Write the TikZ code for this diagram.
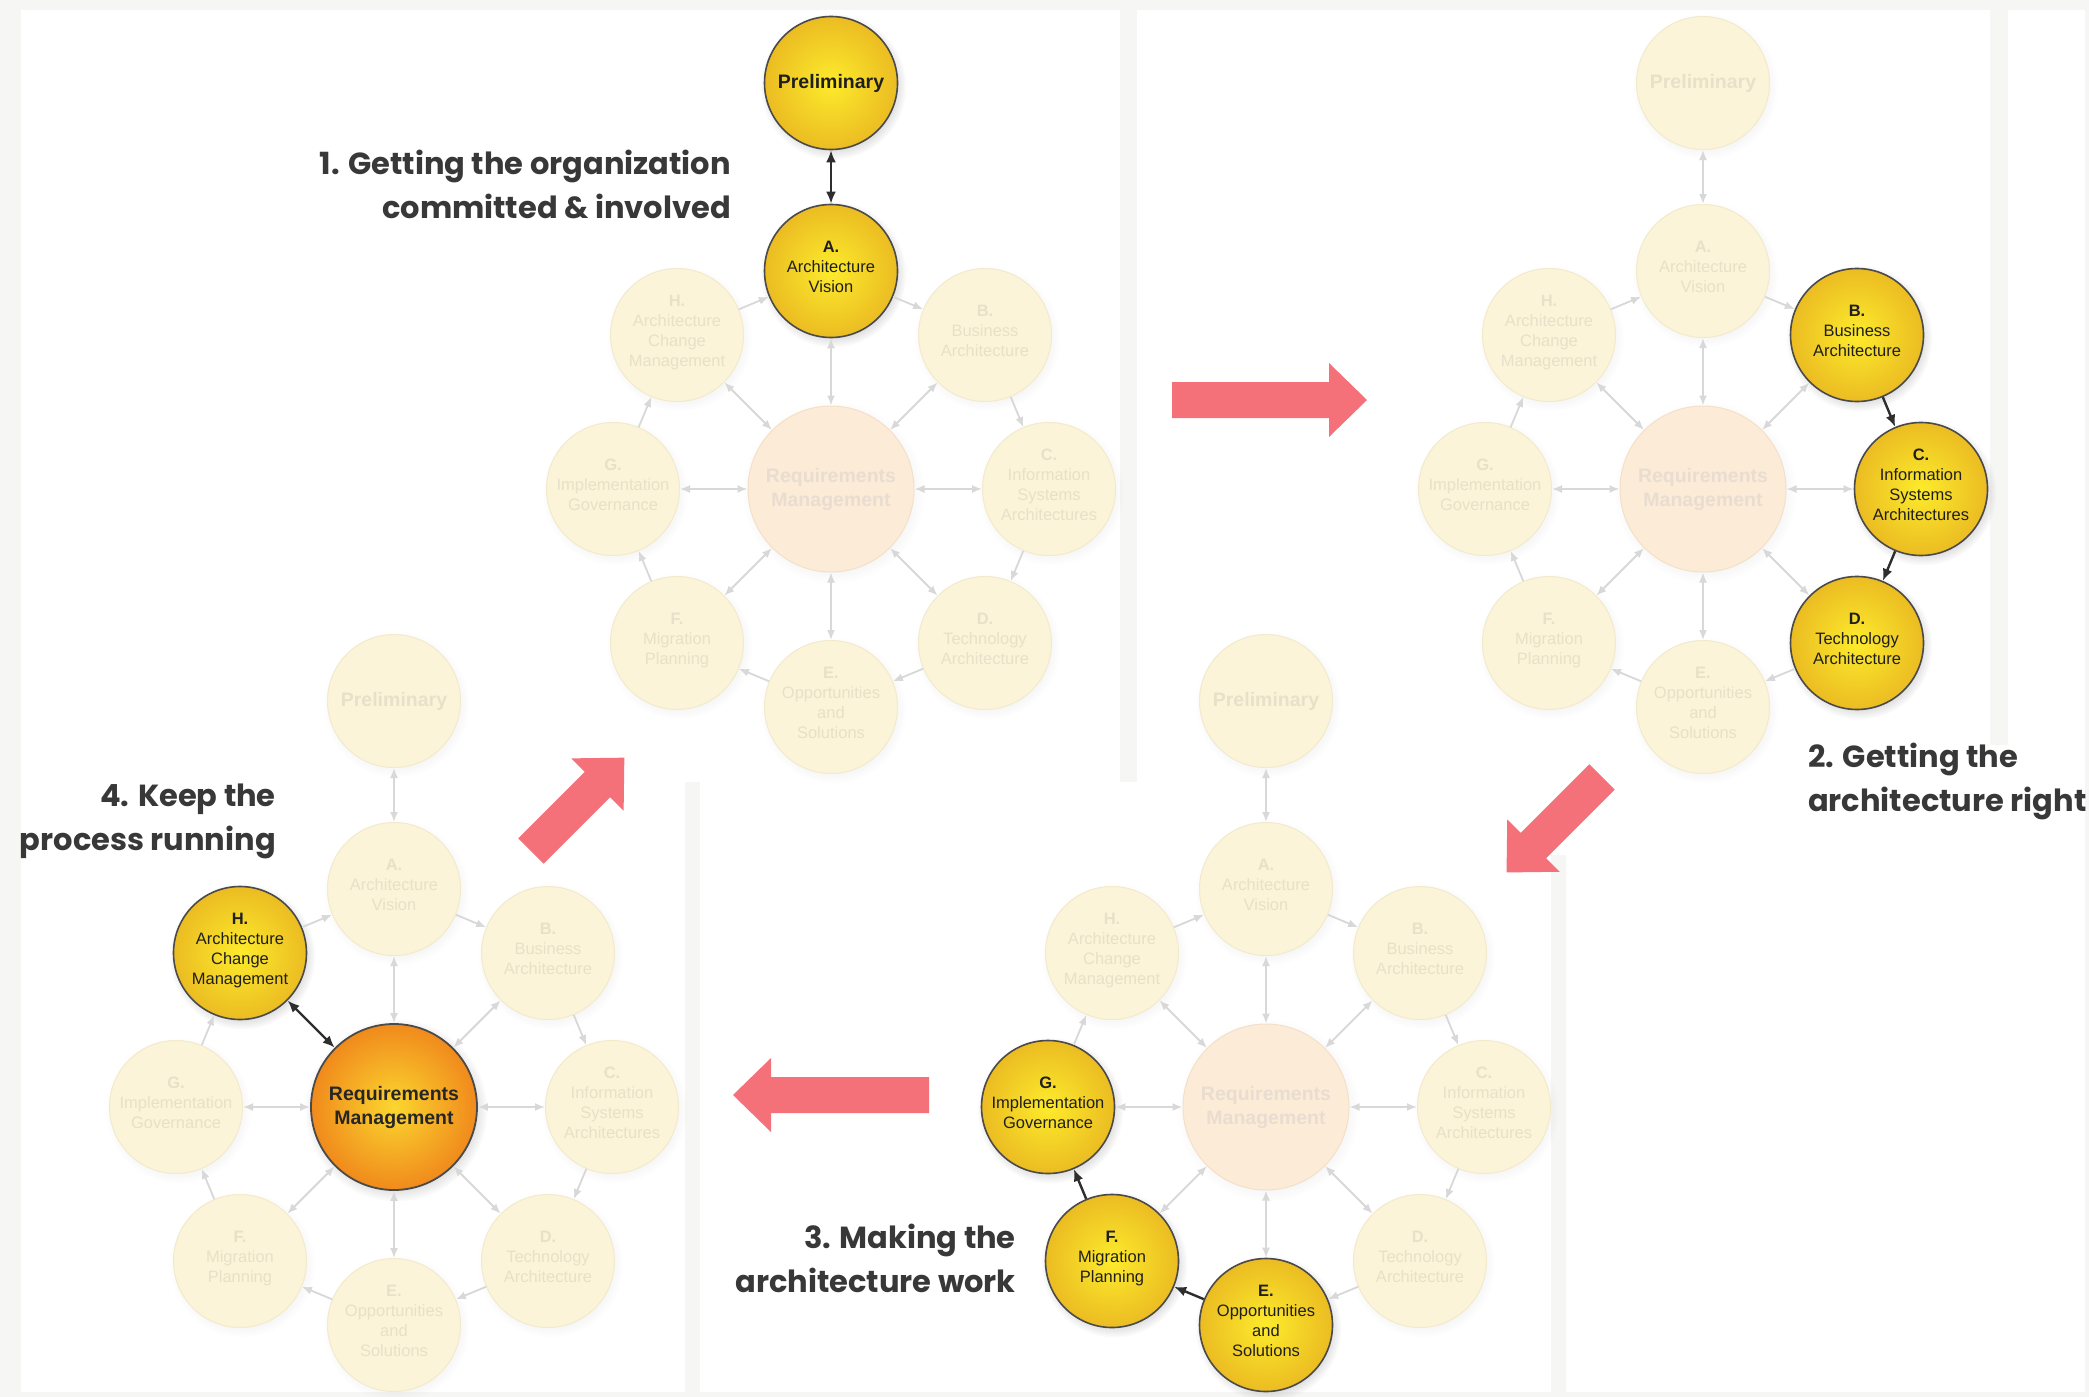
\documentclass[tikz,border=0pt]{standalone}
\usepackage{fontspec}
\setmainfont{Liberation Sans}
\newfontfamily\labelfont{Poppins}
\usetikzlibrary{arrows.meta,shadows,calc}

\definecolor{ylin}{HTML}{FDEB2C}
\definecolor{ylout}{HTML}{EBBC22}
\definecolor{orin}{HTML}{FBD62F}
\definecolor{orout}{HTML}{F08A1C}
\definecolor{hib}{HTML}{4A4A4A}
\definecolor{fdfill}{HTML}{FBF4D8}
\definecolor{fdborder}{HTML}{F2EACB}
\definecolor{fdtext}{HTML}{E8E0C8}
\definecolor{rmfill}{HTML}{FCEBD6}
\definecolor{rmborder}{HTML}{F4E0C8}
\definecolor{rmtext}{HTML}{E8DDD0}
\definecolor{fdarrow}{HTML}{D8D8D8}
\definecolor{hiarrow}{HTML}{2E2E2E}
\definecolor{bigred}{HTML}{F4717A}
\definecolor{lbltext}{HTML}{383838}
\definecolor{bggrey}{HTML}{F6F6F4}

\newcommand\phl[1]{{\bfseries #1}}

\tikzset{
  phase/.style={circle, minimum size=133pt, inner sep=0pt, align=center,
    text depth=9pt, font=\fontsize{16.5}{20}\selectfont},
  hi/.style={phase, draw=hib, line width=1.6pt, inner color=ylin, outer color=ylout,
    text=black!88, circular drop shadow={opacity=0.25, shadow xshift=2pt, shadow yshift=-3pt}},
  fd/.style={phase, draw=fdborder, line width=1pt, fill=fdfill, text=fdtext,
    circular drop shadow={opacity=0.07, shadow xshift=2pt, shadow yshift=-3pt}},
  rmbase/.style={circle, minimum size=166pt, inner sep=0pt, align=center,
    font=\fontsize{19.5}{24}\selectfont\bfseries},
  rmhi/.style={rmbase, draw=hib, line width=1.8pt, inner color=orin, outer color=orout,
    text=black!85, circular drop shadow={opacity=0.25, shadow xshift=2pt, shadow yshift=-3pt}},
  rmfd/.style={rmbase, draw=rmborder, line width=1pt, fill=rmfill, text=rmtext,
    circular drop shadow={opacity=0.07, shadow xshift=2pt, shadow yshift=-3pt}},
  prelimfont/.style={font=\fontsize{19.5}{22}\selectfont\bfseries, text depth=4pt},
  fdarr/.style={draw=fdarrow, line width=1.8pt, >={Latex[length=10pt,width=8pt]}},
  hiarr/.style={draw=hiarrow, line width=2.4pt, >={Latex[length=12pt,width=10pt]}},
  sP/.style=fd, sA/.style=fd, sB/.style=fd, sC/.style=fd, sD/.style=fd,
  sE/.style=fd, sF/.style=fd, sG/.style=fd, sH/.style=fd, sRM/.style=rmfd,
  aP/.style=fdarr, aA/.style=fdarr, aB/.style=fdarr, aC/.style=fdarr, aD/.style=fdarr,
  aE/.style=fdarr, aF/.style=fdarr, aG/.style=fdarr, aH/.style=fdarr,
  rA/.style=fdarr, rB/.style=fdarr, rC/.style=fdarr, rD/.style=fdarr,
  rE/.style=fdarr, rF/.style=fdarr, rG/.style=fdarr, rH/.style=fdarr,
  label/.style={font=\labelfont\bfseries\fontsize{30.5}{44}\selectfont, text=lbltext, inner sep=0pt},
  redarrow/.style={fill=bigred, draw=none}
}

\newcommand\admwheel[4]{%
\begin{scope}[shift={(#2,#3)},#4]
  \node[sRM] (#1RM) at (0,0) {Requirements\\Management};
  \node[sP,prelimfont] (#1P) at (0,-406) {Preliminary};
  \node[sA] (#1A) at (0,-218) {\phl{A.}\\Architecture\\Vision};
  \node[sB] (#1B) at (154,-154) {\phl{B.}\\Business\\Architecture};
  \node[sC] (#1C) at (218,0) {\phl{C.}\\Information\\Systems\\Architectures};
  \node[sD] (#1D) at (154,154) {\phl{D.}\\Technology\\Architecture};
  \node[sE] (#1E) at (0,218) {\phl{E.}\\Opportunities\\and\\Solutions};
  \node[sF] (#1F) at (-154,154) {\phl{F.}\\Migration\\Planning};
  \node[sG] (#1G) at (-218,0) {\phl{G.}\\Implementation\\Governance};
  \node[sH] (#1H) at (-154,-154) {\phl{H.}\\Architecture\\Change\\Management};
  \draw[aP,<->] (#1P) -- (#1A);
  \draw[aA,->] (#1A) -- (#1B);
  \draw[aB,->] (#1B) -- (#1C);
  \draw[aC,->] (#1C) -- (#1D);
  \draw[aD,->] (#1D) -- (#1E);
  \draw[aE,->] (#1E) -- (#1F);
  \draw[aF,->] (#1F) -- (#1G);
  \draw[aG,->] (#1G) -- (#1H);
  \draw[aH,->] (#1H) -- (#1A);
  \draw[rA,<->] (#1RM) -- (#1A);
  \draw[rB,<->] (#1RM) -- (#1B);
  \draw[rC,<->] (#1RM) -- (#1C);
  \draw[rD,<->] (#1RM) -- (#1D);
  \draw[rE,<->] (#1RM) -- (#1E);
  \draw[rF,<->] (#1RM) -- (#1F);
  \draw[rG,<->] (#1RM) -- (#1G);
  \draw[rH,<->] (#1RM) -- (#1H);
\end{scope}}

% big block arrow: tail centre, angle, length
\newcommand\bigarrow[4]{%
\begin{scope}[shift={(#1,#2)},rotate=#3]
  \fill[redarrow] (0,-18) -- ({#4-38},-18) -- ({#4-38},-37) -- (#4,0) -- ({#4-38},37) -- ({#4-38},18) -- (0,18) -- cycle;
\end{scope}}

\begin{document}
\begin{tikzpicture}[x=1pt,y=-1pt]
\useasboundingbox (0,0) rectangle (2089,1397);
\fill[white] (0,0) rectangle (2089,1397);
% light panel gaps
\fill[bggrey] (0,0) rectangle (2089,10);
\fill[bggrey] (0,0) rectangle (21,1397);
\fill[bggrey] (2085,0) rectangle (2089,1397);
\fill[bggrey] (0,1392) rectangle (2089,1397);
\fill[bggrey] (1120,10) rectangle (1137,782);
\fill[bggrey] (1990,10) rectangle (2008,745);
\fill[bggrey] (685,782) rectangle (700,1392);
\fill[bggrey] (1551,855) rectangle (1566,1392);

% wheels
\admwheel{W1}{831}{489}{sP/.style=hi, sA/.style=hi, aP/.style=hiarr}
\admwheel{W2}{1703}{489}{sB/.style=hi, sC/.style=hi, sD/.style=hi, aB/.style=hiarr, aC/.style=hiarr}
\admwheel{W3}{1266}{1107}{sE/.style=hi, sF/.style=hi, sG/.style=hi, aE/.style=hiarr, aF/.style=hiarr}
\admwheel{W4}{394}{1107}{sH/.style=hi, sRM/.style=rmhi, rH/.style=hiarr}

% red arrows between stages
\bigarrow{1172}{400}{0}{195}
\bigarrow{1602}{777}{225}{135}
\bigarrow{929}{1095}{180}{196}
\bigarrow{531}{851}{45}{132}

% stage labels
\node[label, anchor=east, align=right] (L1) at (731,184) {1. Getting the organization\\committed \& involved};
\node[label, anchor=west, align=left] (L2) at (1808,781) {2. Getting the\\architecture right};
\node[label, anchor=east, align=right] (L3) at (1016,1258) {3. Making the\\architecture work};
\node[label, anchor=east, align=right] (L4) at (276,821) {4. Keep the\\process running};
\end{tikzpicture}
\end{document}
